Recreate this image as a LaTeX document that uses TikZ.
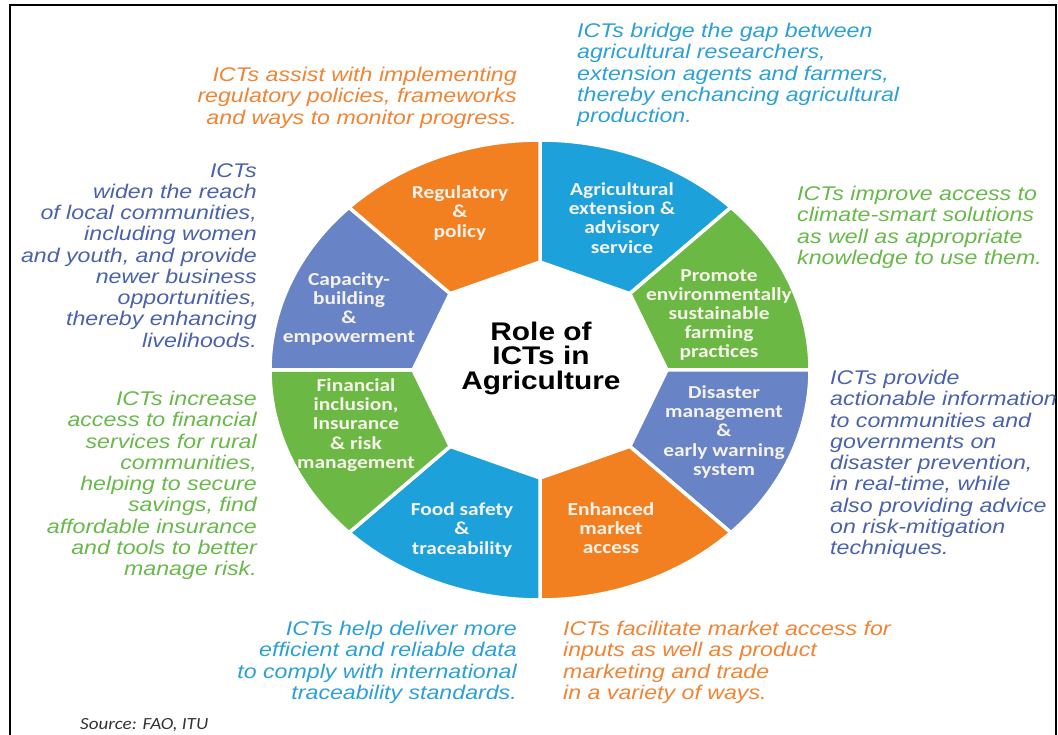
\documentclass[tikz,border=0pt]{standalone}
\usepackage{fontspec}
\setmainfont{Liberation Sans}
\newfontfamily\notefont{Liberation Sans}[FakeStretch=1.17]
\newfontfamily\segfont{Carlito}[FakeStretch=1.17]
\newfontfamily\srcfont{Carlito}[FakeStretch=1.12]
\usepackage{tikz}

\definecolor{segorange}{RGB}{243,128,32}
\definecolor{segblue}{RGB}{29,161,219}
\definecolor{seggreen}{RGB}{108,184,68}
\definecolor{segslate}{RGB}{104,132,199}
\definecolor{txtorange}{RGB}{240,132,52}
\definecolor{txtblue}{RGB}{44,160,214}
\definecolor{txtgreen}{RGB}{104,184,74}
\definecolor{txtslate}{RGB}{74,98,170}
\definecolor{labelwhite}{RGB}{246,242,234}

\begin{document}
\begin{tikzpicture}[x=1pt, y=1pt]
	\useasboundingbox (0,0) rectangle (1058,-735);
	\draw[line width=1.5pt] (10,-740) -- (10,-5) -- (1056,-5) -- (1056,-740);

	% ring of eight segments
	\begin{scope}[shift={(540,-370)}]
		\foreach \a/\col [evaluate=\a as \b using \a-45] in {90/segblue, 45/seggreen, 0/segslate, -45/segorange, -90/segblue, -135/seggreen, 180/segslate, 135/segorange}
			\filldraw[fill=\col, draw=white, line width=3.5pt]
				(\a:127pt and 108pt) -- (\a:270pt and 230pt)
				arc[start angle=\a, end angle=\b, x radius=270pt, y radius=230pt]
				-- (\b:127pt and 108pt) -- cycle;
	\end{scope}

	% segment labels
	\begin{scope}[every node/.style={align=center, text=labelwhite, inner sep=0pt,
	              font=\segfont\bfseries\fontsize{18.3}{19.2}\selectfont}]
		\node (extension) at (622,-218) {Agricultural\\extension \&\\advisory\\service};
		\node (environment) at (719,-315) {Promote\\environmentally\\sustainable\\farming\\practices};
		\node (disaster) at (724,-432) {Disaster\\management\\\&\\early warning\\system};
		\node (market) at (611,-528) {Enhanced\\market\\access};
		\node (food) at (462,-530) {Food safety\\\&\\traceability};
		\node (finance) at (356,-425) {Financial\\inclusion,\\Insurance\\\& risk\\management};
		\node (capacity) at (349,-309) {Capacity-\\building\\\&\\empowerment};
		\node (regulatory) at (460,-213) {Regulatory\\\&\\policy};
	\end{scope}

	\node[align=center, inner sep=0pt, font=\notefont\bfseries\fontsize{25.5}{24.5}\selectfont] (role) at (541,-358) {Role of\\ICTs in\\Agriculture};

	% notes round the ring
	\begin{scope}[every node/.style={inner sep=0pt, font=\notefont\itshape\fontsize{19.8}{21.25}\selectfont}]
		\node[anchor=north west, align=left, text=txtblue] (extnote) at (577,-23)
			{ICTs bridge the gap between\\agricultural researchers,\\extension agents and farmers,\\thereby enchancing agricultural\\production.};
		\node[anchor=north east, align=right, text=txtorange] (regnote) at (517,-67)
			{ICTs assist with implementing\\regulatory policies, frameworks\\and ways to monitor progress.};
		\node[anchor=north east, align=right, text=txtslate] (capnote) at (257,-163)
			{ICTs\\widen the reach\\of local communities,\\including women\\and youth, and provide\\newer business\\opportunities,\\thereby enhancing\\livelihoods.};
		\node[anchor=north west, align=left, text=txtgreen] (envnote) at (797,-186)
			{ICTs improve access to\\climate-smart solutions\\as well as appropriate\\knowledge to use them.};
		\node[anchor=north east, align=right, text=txtgreen] (finnote) at (257,-391)
			{ICTs increase\\access to financial\\services for rural\\communities,\\helping to secure\\savings, find\\affordable insurance\\and tools to better\\manage risk.};
		\node[anchor=north west, align=left, text=txtslate] (disnote) at (830,-370)
			{ICTs provide\\actionable information\\to communities and\\governments on\\disaster prevention,\\in real-time, while\\also providing advice\\on risk-mitigation\\techniques.};
		\node[anchor=north east, align=right, text=txtblue] (foodnote) at (517,-621)
			{ICTs help deliver more\\efficient and reliable data\\to comply with international\\traceability standards.};
		\node[anchor=north west, align=left, text=txtorange] (marknote) at (563,-621)
			{ICTs facilitate market access for\\inputs as well as product\\marketing and trade\\in a variety of ways.};
	\end{scope}

	\node[anchor=base west, inner sep=0pt, text=black!80, font=\srcfont\itshape\fontsize{17}{19}\selectfont] (source) at (80,-729) {Source: FAO, ITU};
\end{tikzpicture}
\end{document}
